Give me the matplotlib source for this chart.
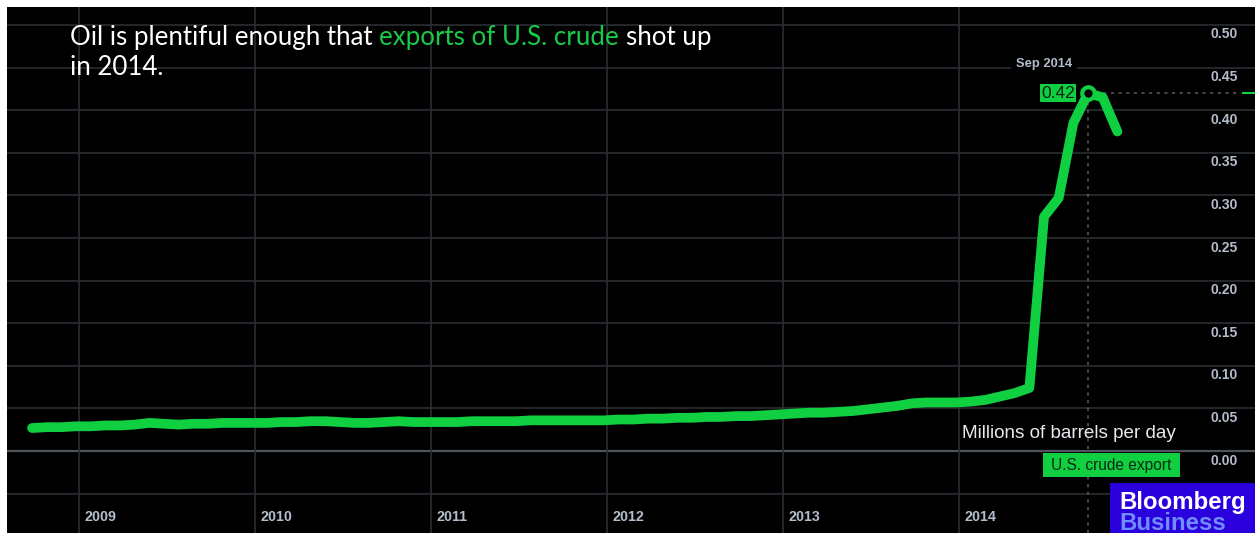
import matplotlib
matplotlib.use('Agg')
import matplotlib.pyplot as plt
import matplotlib.transforms as mtransforms
from matplotlib.patches import Rectangle
import pandas as pd

# ---------------- data ----------------
months = pd.date_range('2008-09-01', '2014-11-01', freq='MS')
exports = [
    # 2008 Sep-Dec
    0.027, 0.028, 0.028, 0.029,
    # 2009
    0.029, 0.030, 0.030, 0.031, 0.033, 0.032, 0.031, 0.032, 0.032, 0.033, 0.033, 0.033,
    # 2010
    0.033, 0.034, 0.034, 0.035, 0.035, 0.034, 0.033, 0.033, 0.034, 0.035, 0.034, 0.034,
    # 2011
    0.034, 0.034, 0.035, 0.035, 0.035, 0.035, 0.036, 0.036, 0.036, 0.036, 0.036, 0.036,
    # 2012
    0.037, 0.037, 0.038, 0.038, 0.039, 0.039, 0.040, 0.040, 0.041, 0.041, 0.042, 0.043,
    # 2013
    0.044, 0.045, 0.045, 0.046, 0.047, 0.049, 0.051, 0.053, 0.056, 0.057, 0.057, 0.057,
    # 2014 Jan-Nov
    0.058, 0.060, 0.064, 0.068, 0.074, 0.275, 0.297, 0.385, 0.420, 0.415, 0.375,
]
year_ticks = [2009, 2010, 2011, 2012, 2013, 2014]
y_ticks = [0.00, 0.05, 0.10, 0.15, 0.20, 0.25, 0.30, 0.35, 0.40, 0.45, 0.50]
grid_levels = [-0.05] + y_ticks
highlight_label = 'Sep 2014'
highlight_index = 72  # Sep 2014
series_name = 'U.S. crude export'
unit_label = 'Millions of barrels per day'
title_parts = [('Oil is plentiful enough that', 'white'),
               ('exports of U.S. crude', 'green'),
               ('shot up', 'white')]
title_line2 = 'in 2014.'

# ---------------- style ----------------
W, H = 1255, 533
GREEN = '#10d042'
GRID = '#2a2d33'
TICK_COL = '#b3bccb'
FONT = 'Liberation Sans'

fig = plt.figure(figsize=(W / 100, H / 100), dpi=100, facecolor='white')
ax = fig.add_axes([7 / W, 0, (W - 7) / W, (H - 7) / H])
ax.set_facecolor('black')
for s in ax.spines.values():
    s.set_visible(False)
ax.set_xticks([])
ax.set_yticks([])

x = months.year + (months.month - 0.2) / 12
x0, x1 = 2008.591, 2015.682
y0, y1 = -0.0962, 0.5211
ax.set_xlim(x0, x1)
ax.set_ylim(y0, y1)

# grid
for v in grid_levels:
    if v == 0:
        ax.axhline(v, color='#4f545c', lw=1.6, zorder=1)
    else:
        ax.axhline(v, color=GRID, lw=1.2, zorder=1)
for yr in year_ticks:
    ax.axvline(yr, color=GRID, lw=1.2, zorder=1)

# tick labels
ytrans = mtransforms.offset_copy(ax.transData, fig=fig, x=0, y=-9.5, units='dots')
x_lab = 2009 + (1238 - 79) / 176
for v in y_ticks:
    ax.text(x_lab, v, f'{v:.2f}', transform=ytrans, ha='right', va='center',
            color=TICK_COL, fontsize=10.1, fontweight='bold', family=FONT, zorder=3)
xtrans = mtransforms.blended_transform_factory(ax.transData, ax.transAxes)
xtrans = mtransforms.offset_copy(xtrans, fig=fig, x=6, y=0, units='dots')
for yr in year_ticks:
    ax.text(yr, (533 - 517) / 526, str(yr), transform=xtrans, ha='left', va='center',
            color=TICK_COL, fontsize=10.3, fontweight='bold', family=FONT, zorder=3)

# crosshair
xs, vs = x[highlight_index], exports[highlight_index]
ax.plot([xs, xs], [y0, vs], color='#5a5e66', lw=1.1, ls=(0, (2, 3)), zorder=2)
x_end = 2009 + (1240 - 79) / 176
ax.plot([xs, x_end], [vs, vs], color='#5a5e66', lw=1.1, ls=(0, (2, 3)), zorder=2)
ax.plot([2009 + (1243 - 79) / 176, x1], [vs, vs], color=GREEN, lw=1.5, zorder=2)

# main line
ax.plot(x, exports, color=GREEN, lw=7, solid_capstyle='round',
        solid_joinstyle='round', zorder=4)
ax.plot([xs], [vs], 'o', ms=9, mfc='black', mec=GREEN, mew=3, zorder=5)

# value label
vtrans = mtransforms.offset_copy(ax.transData, fig=fig, x=-13, y=0, units='dots')
ax.text(xs, vs, f'{vs:.2f}', transform=vtrans, ha='right', va='center', fontsize=12.5,
        family=FONT, color='#06200c', zorder=6,
        bbox=dict(boxstyle='square,pad=0.08', fc=GREEN, ec='none'))
# date label
dtrans = mtransforms.offset_copy(ax.transData, fig=fig, x=-44, y=0, units='dots')
ax.text(xs, (451 - 64) / 852, highlight_label, transform=dtrans, ha='center', va='center',
        fontsize=9.3, fontweight='bold', family=FONT, color=TICK_COL, zorder=6,
        bbox=dict(boxstyle='square,pad=0.4', fc='black', ec='none'))

def px(xp, yp):
    return xp / W, 1 - yp / H

# unit label
fig.text(*px(962, 433), unit_label, ha='left', va='center', fontsize=13.6,
         family=FONT, color='#e6eaef')
# series label box
fig.patches.append(Rectangle(px(1043, 477), 137 / W, 24 / H, transform=fig.transFigure,
                             fc=GREEN, ec='none', zorder=5))
fig.text(*px(1111.5, 465.5), series_name, ha='center', va='center', fontsize=11.2,
         family=FONT, color='#0a2a12', zorder=6)

# Bloomberg logo
fig.patches.append(Rectangle(px(1110, 533), 145 / W, 50 / H, transform=fig.transFigure,
                             fc='#2a00dc', ec='none', zorder=5))
fig.text(*px(1119, 509), 'Bloomberg', ha='left', va='baseline', fontsize=17.3,
         fontweight='bold', family=FONT, color='white', zorder=6)
fig.text(*px(1119, 530), 'Business', ha='left', va='baseline', fontsize=17.3,
         fontweight='bold', family=FONT, color='#6f8dff', zorder=6)

# headline
TFONT = 'Lato'
TSIZE = 18.6
renderer = fig.canvas.get_renderer()
def tw(s):
    t = fig.text(0, 0, s, fontsize=TSIZE, family=TFONT)
    w = t.get_window_extent(renderer).width
    t.remove()
    return w
space = tw('a a') - tw('aa')
colors = {'white': 'white', 'green': '#19c94a'}
prev = fig.text(*px(70, 45), title_parts[0][0], ha='left', va='baseline', fontsize=TSIZE,
                family=TFONT, color=colors[title_parts[0][1]])
for txt, c in title_parts[1:]:
    prev = ax.annotate(txt, xy=(1, 0), xycoords=prev, xytext=(space, 0),
                       textcoords='offset pixels', ha='left', va='bottom',
                       fontsize=TSIZE, family=TFONT, color=colors[c])
fig.text(*px(70, 75), title_line2, ha='left', va='baseline', fontsize=TSIZE,
         family=TFONT, color='white')

fig.savefig('out.png', dpi=100, facecolor=fig.get_facecolor())
